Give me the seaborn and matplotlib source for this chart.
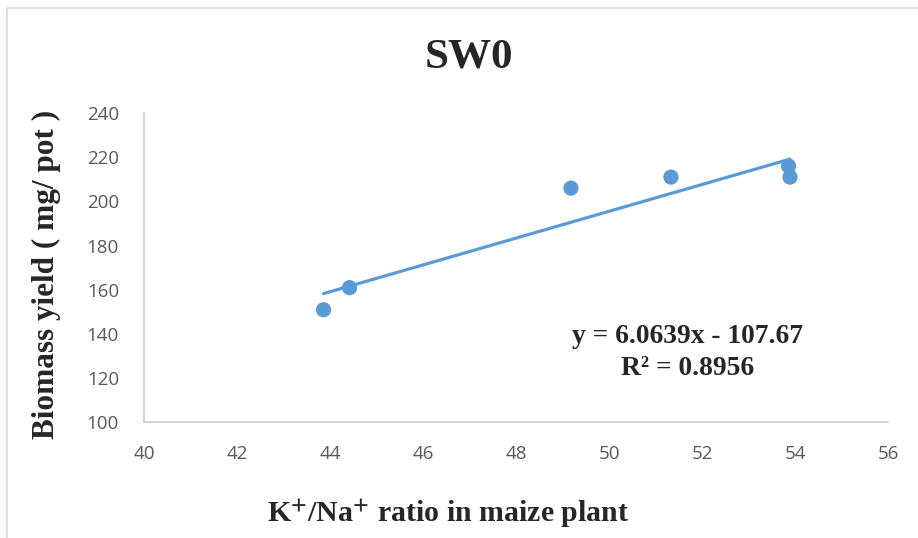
import numpy as np
import pandas as pd
import matplotlib
matplotlib.use("Agg")
import matplotlib.pyplot as plt
from matplotlib.lines import Line2D
import seaborn as sns

# K+/Na+ ratio and biomass yield for treatment SW0
k_na_ratio = [43.86, 44.42, 49.18, 51.33, 53.86, 53.89]
biomass_yield = [151.0, 161.0, 206.0, 211.0, 216.0, 211.0]

# Linear trend line coefficients
slope = 6.0639
intercept = -107.67
r_squared = 0.8956

x_ticks = [40, 42, 44, 46, 48, 50, 52, 54, 56]
y_ticks = [100, 120, 140, 160, 180, 200, 220, 240]

sns.set_theme(style="white")
plt.rcParams["font.family"] = ["Open Sans", "DejaVu Sans"]
plt.rcParams["mathtext.fontset"] = "stix"

BLUE = "#5B9BD5"
serif = ["Liberation Serif", "DejaVu Serif"]

fig = plt.figure(figsize=(9.18, 5.38), dpi=100)
ax = fig.add_axes([0.1569, 0.2147, 0.8105, 0.5753])

df = pd.DataFrame({"ratio": k_na_ratio, "yield": biomass_yield})
trend_x = np.array([min(k_na_ratio), max(k_na_ratio)])
trend = pd.DataFrame({"ratio": trend_x, "yield": slope * trend_x + intercept})

sns.lineplot(data=trend, x="ratio", y="yield", ax=ax, color=BLUE,
             linewidth=2.3, zorder=2)
sns.scatterplot(data=df, x="ratio", y="yield", ax=ax, color=BLUE, s=120,
                edgecolor="none", zorder=3)

ax.set_xlim(40, 56)
ax.set_ylim(100, 240)
ax.set_xticks(x_ticks)
ax.set_yticks(y_ticks)
ax.set_xlabel("")
ax.set_ylabel("")
ax.tick_params(axis="both", length=0, labelsize=13.5, labelcolor="#595959")
ax.tick_params(axis="x", pad=16)
ax.tick_params(axis="y", pad=18)
for side in ["top", "right"]:
    ax.spines[side].set_visible(False)
for side in ["left", "bottom"]:
    ax.spines[side].set_color("#C8C8C8")
    ax.spines[side].set_linewidth(1.1)

fig.text(468.5 / 918, 1 - 68 / 538, "SW0", family=serif, fontweight="bold",
         fontsize=31, ha="center", va="baseline")
fig.text(46 / 918, 1 - 274 / 538, "Biomass yield ( mg/ pot )", family=serif,
         fontweight="bold", fontsize=22.5, rotation=90, ha="center",
         va="center")
fig.text(448 / 918, 1 - 522 / 538,
         r"K$^{\mathbf{+}}$/Na$^{\mathbf{+}}$ ratio in maize plant",
         family=serif, fontweight="bold", fontsize=21.5, ha="center",
         va="baseline")
fig.text(688 / 918, 1 - 343 / 538, f"y = {slope}x - {abs(intercept)}",
         family=serif, fontweight="bold", fontsize=19.8, ha="center",
         va="baseline")
fig.text(688 / 918, 1 - 375 / 538, f"R\u00b2 = {r_squared}", family=serif,
         fontweight="bold", fontsize=19.8, ha="center", va="baseline")

# Chart area border (top and left edges)
fig.add_artist(Line2D([7 / 918, 7 / 918, 1.0], [0.0, 1 - 8 / 538, 1 - 8 / 538],
                      transform=fig.transFigure, color="#D9D9D9",
                      linewidth=1.2))

fig.savefig("out.png", dpi=100)
